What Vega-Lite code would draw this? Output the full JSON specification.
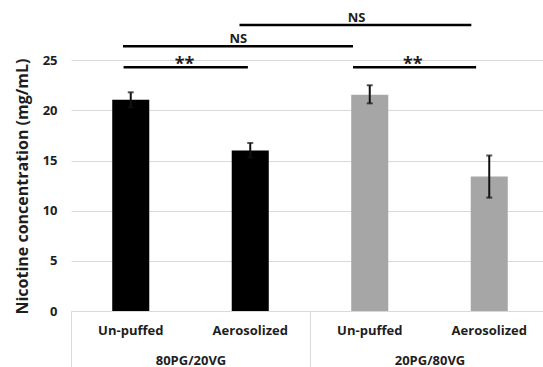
{
  "$schema": "https://vega.github.io/schema/vega-lite/v6.json",
  "width": 472,
  "height": 311,
  "autosize": {"type": "none"},
  "padding": {"left": 71, "top": 0, "right": 0, "bottom": 56},
  "background": "white",
  "config": {
    "view": {"stroke": null},
    "font": "Open Sans",
    "axis": {"labelFont": "Open Sans", "titleFont": "Open Sans", "labelColor": "#1e1e1e", "titleColor": "#1e1e1e"}
  },
  "datasets": {
    "bars": [
      {"bar": "Un-puffed (80PG/20VG)", "blend": "80PG/20VG", "mean": 21.05, "lo": 20.3, "hi": 21.8},
      {"bar": "Aerosolized (80PG/20VG)", "blend": "80PG/20VG", "mean": 16.0, "lo": 15.3, "hi": 16.75},
      {"bar": "Un-puffed (20PG/80VG)", "blend": "20PG/80VG", "mean": 21.55, "lo": 20.7, "hi": 22.5},
      {"bar": "Aerosolized (20PG/80VG)", "blend": "20PG/80VG", "mean": 13.4, "lo": 11.3, "hi": 15.5}
    ],
    "brackets": [
      {"from": 0.44, "to": 1.48, "level": 24.3, "at": 0.95, "sign": "**"},
      {"from": 2.36, "to": 3.39, "level": 24.3, "at": 2.86, "sign": "**"},
      {"from": 0.435, "to": 2.36, "level": 26.4, "at": 1.4, "sign": "NS"},
      {"from": 1.41, "to": 3.35, "level": 28.5, "at": 2.39, "sign": "NS"}
    ]
  },
  "layer": [
    {
      "data": {"name": "bars"},
      "encoding": {
        "x": {
          "field": "bar", "type": "nominal", "sort": null,
          "scale": {"range": [0, 478], "paddingInner": 0.69, "paddingOuter": 0.345},
          "axis": {
            "orient": "bottom",
            "title": null, "labelAngle": 0, "ticks": false, "domainColor": "#d9d9d9",
            "labelExpr": "split(datum.label, ' (')[0]",
            "labelFontSize": 13, "labelFontWeight": "bold", "labelPadding": 13
          }
        },
        "y": {
          "field": "mean", "type": "quantitative",
          "scale": {"domain": [0, 31], "nice": false, "zero": true},
          "axis": {
            "values": [0, 5, 10, 15, 20, 25], "domain": false, "ticks": false,
            "gridColor": "#d9d9d9", "labelFontSize": 13, "labelFontWeight": "bold", "labelPadding": 14,
            "title": "Nicotine concentration (mg/mL)", "titleFontSize": 16, "titleFontWeight": "bold",
            "titleAngle": -90, "titleX": -49, "titleY": 186, "titleAlign": "center", "titleBaseline": "middle"
          }
        }
      },
      "layer": [
        {
          "mark": {"type": "bar"},
          "encoding": {
            "color": {
              "field": "blend", "type": "nominal",
              "scale": {"domain": ["80PG/20VG", "20PG/80VG"], "range": ["#000000", "#a6a6a6"]},
              "legend": null
            }
          }
        },
        {
          "mark": {"type": "rule", "color": "#111111", "strokeWidth": 2},
          "encoding": {
            "y": {"field": "lo", "type": "quantitative"},
            "y2": {"field": "hi"}
          }
        },
        {
          "mark": {"type": "tick", "color": "#111111", "size": 6, "thickness": 2, "orient": "horizontal"},
          "encoding": {"y": {"field": "lo", "type": "quantitative"}}
        },
        {
          "mark": {"type": "tick", "color": "#111111", "size": 6, "thickness": 2, "orient": "horizontal"},
          "encoding": {"y": {"field": "hi", "type": "quantitative"}}
        }
      ]
    },
    {
      "data": {"name": "brackets"},
      "encoding": {
        "x": {
          "field": "from", "type": "quantitative",
          "scale": {"domain": [0, 4], "range": [0, 478], "nice": false, "zero": false},
          "axis": {
            "orient": "bottom",
            "title": null, "values": [0, 1, 2, 3, 4], "domain": false, "grid": false,
            "tickSize": 56, "tickWidth": 1,
            "tickColor": {"condition": {"test": "datum.value % 2 == 1", "value": "transparent"}, "value": "#d9d9d9"},
            "labelExpr": "datum.value == 1 ? '80PG/20VG' : datum.value == 3 ? '20PG/80VG' : ''",
            "labelFontSize": 13, "labelFontWeight": "bold", "labelPadding": -13
          }
        },
        "y": {"field": "level", "type": "quantitative"}
      },
      "layer": [
        {
          "mark": {"type": "rule", "color": "#000000", "strokeWidth": 2.5},
          "encoding": {
            "x2": {"field": "to"}
          }
        },
        {
          "transform": [{"filter": "datum.sign == '**'"}],
          "mark": {"type": "text", "fontSize": 18, "fontWeight": "bold", "color": "#1e1e1e", "baseline": "alphabetic", "dy": 3},
          "encoding": {
            "x": {"field": "at", "type": "quantitative"},
            "text": {"field": "sign"}
          }
        },
        {
          "transform": [{"filter": "datum.sign == 'NS'"}],
          "mark": {"type": "text", "fontSize": 13, "fontWeight": "bold", "color": "#1e1e1e", "baseline": "alphabetic", "dy": -3},
          "encoding": {
            "x": {"field": "at", "type": "quantitative"},
            "text": {"field": "sign"}
          }
        }
      ]
    }
  ],
  "resolve": {"scale": {"x": "independent"}, "axis": {"x": "independent"}}
}
